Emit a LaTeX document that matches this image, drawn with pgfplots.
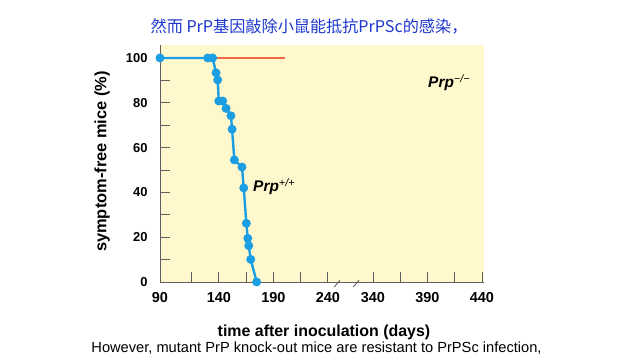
\documentclass[border=0pt]{standalone}
\usepackage{pgfplots}
\pgfplotsset{compat=1.18}
\usepackage{fontspec}
\setmainfont{Liberation Sans}
\newfontfamily\cjk{Noto Sans CJK SC}
\definecolor{bgyellow}{RGB}{255,248,204}
\definecolor{curveblue}{RGB}{28,158,226}
\definecolor{curveorange}{RGB}{238,105,70}
\definecolor{titleblue}{RGB}{30,55,205}
\definecolor{axgray}{RGB}{95,95,95}
\begin{document}
\begin{tikzpicture}
\useasboundingbox[fill=white] (0bp,0bp) rectangle (640bp,360bp);
\begin{axis}[
  at={(160bp,78bp)}, anchor=south west,
  width=324bp, height=237bp, scale only axis,
  xmin=86, xmax=383.2, ymin=0, ymax=105.8,
  axis lines=left,
  axis line style={-, axgray, line width=1pt},
  axis background/.style={fill=bgyellow},
  tick align=inside,
  major tick length=10bp, minor tick length=10bp,
  tick style={axgray, line width=0.8pt},
  xtick={86,140,190,240,281.3,331.3,381.3},
  xticklabels={90,140,190,240,340,390,440},
  minor xtick={115,165,215,306.3,356.3},
  ytick={0,20,40,60,80,100},
  minor ytick={10,30,50,70,90},
  /pgf/number format/assume math mode=true,
  xticklabel style={font=\bfseries\fontsize{14.5}{14.5}\selectfont, yshift=-7bp},
  yticklabel style={font=\bfseries\fontsize{13}{13}\selectfont, xshift=-9bp},
  clip=false,
]
\addplot[curveorange, line width=2.4pt] coordinates {(134.3,100) (200.7,100)};
\addplot[curveblue, line width=2.4pt, mark=*, mark size=3.2bp, mark options={fill=curveblue, draw=curveblue}] coordinates {
(86,100) (129.8,100) (134.3,100) (137.4,93.4) (138.9,90.2) (139.9,80.8) (143.5,80.8)
(146.6,77.5) (151.1,74.2) (152.1,68.2) (154.2,54.5) (161.2,51.3) (162.8,42)
(165.2,26.2) (166.5,19.5) (167.4,16.2) (169.2,10.1) (174.7,0)
};
\end{axis}
% axis break marks
\draw[axgray, line width=0.9pt] (334.3bp,73bp) -- (340bp,79.7bp);
\draw[axgray, line width=0.9pt] (353.3bp,73bp) -- (359bp,79.7bp);
% series labels
\node[anchor=west, inner sep=0pt, font=\bfseries\itshape\fontsize{15.5}{15.5}\selectfont] at (253bp,173bp) {Prp\textsuperscript{\normalfont\itshape +/+}};
\node[anchor=west, inner sep=0pt, font=\bfseries\itshape\fontsize{15.5}{15.5}\selectfont] at (428bp,277bp) {Prp\textsuperscript{\normalfont\itshape −/−}};
% axis labels
\node[font=\bfseries\fontsize{16}{16}\selectfont] at (324bp,28bp) {time after inoculation (days)};
\node[rotate=90, font=\bfseries\fontsize{16.5}{16.5}\selectfont] at (102bp,198.5bp) {symptom-free mice (\%)};
% title and subtitle
\node[text=titleblue, font=\cjk\fontsize{16.2}{16.2}\selectfont] at (309bp,333bp) {然而 PrP基因敲除小鼠能抵抗PrPSc的感染，};
\node[font=\fontsize{14.7}{14.7}\selectfont] at (316.5bp,12bp) {However, mutant PrP knock-out mice are resistant to PrPSc infection,};
\end{tikzpicture}
\end{document}
